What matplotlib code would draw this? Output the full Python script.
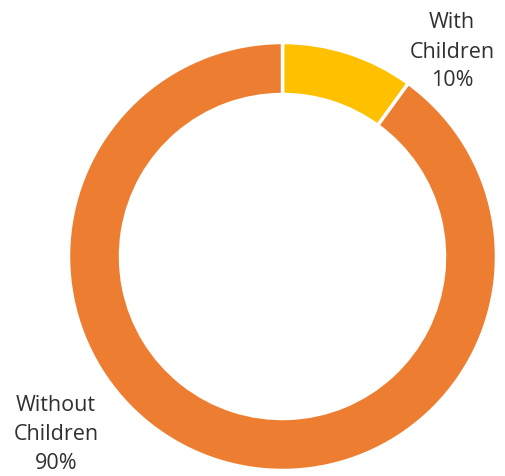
import matplotlib
matplotlib.use("Agg")
import matplotlib.pyplot as plt

categories = ["With\nChildren", "Without\nChildren"]
values = [10, 90]
colors = ["#FFC000", "#ED7D31"]

W, H = 506, 477
fig = plt.figure(figsize=(W / 100, H / 100), dpi=100)
ax = fig.add_axes([0, 0, 1, 1])

cx, cy, r = 282.5, H - 257.5, 214
wedges, _ = ax.pie(values, colors=colors, startangle=90, counterclock=False,
                   center=(cx, cy), radius=r, frame=True,
                   wedgeprops=dict(width=52, edgecolor="white", linewidth=2.5))
ax.set_xlim(0, W)
ax.set_ylim(0, H)
ax.set_aspect("equal")
ax.axis("off")

total = sum(values)
label_pos = [(452, H - 52), (56, H - 435)]
for cat, v, (x, y) in zip(categories, values, label_pos):
    ax.text(x, y, f"{cat}\n{v / total:.0%}", ha="center", va="center",
            fontsize=15.5, color="#303030", family="Open Sans", linespacing=1.5)

fig.savefig("out.png", dpi=100)
